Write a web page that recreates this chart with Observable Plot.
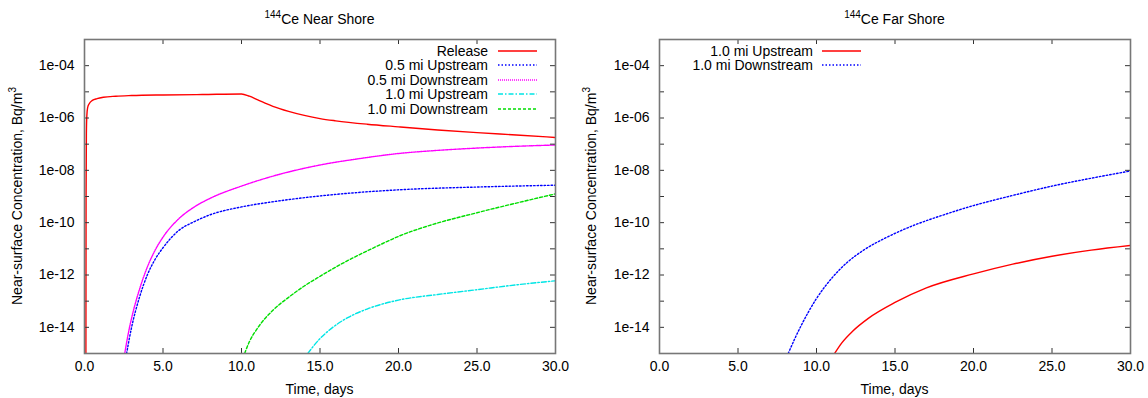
<!DOCTYPE html>
<html><head><meta charset="utf-8">
<script src="https://cdn.jsdelivr.net/npm/d3@7"></script>
<script src="https://cdn.jsdelivr.net/npm/@observablehq/plot@0.6"></script>
<style>
body{margin:0;background:#fff;font-family:"Liberation Sans",Arial,sans-serif;color:#000;}
#wrap{position:relative;width:1148px;height:398px;overflow:hidden;}
.panel{position:absolute;top:0;width:574px;height:398px;}
.panel svg{position:absolute;left:0;top:0;}
.txt{position:absolute;font-size:14px;white-space:nowrap;line-height:16px;}
.title sup{font-size:10px;vertical-align:6px;line-height:0;}
.ylab sup{font-size:10px;vertical-align:6px;line-height:0;}
</style></head><body>
<div id="wrap"></div>
<script>
// ---------- data ----------
const xTickValues = [0, 5, 10, 15, 20, 25, 30];
const xTickLabels = ["0.0", "5.0", "10.0", "15.0", "20.0", "25.0", "30.0"];
const yTickValues = [1e-14, 1e-13, 1e-12, 1e-11, 1e-10, 1e-9, 1e-8, 1e-7, 1e-6, 1e-5, 1e-4];
const yLabelValues = [1e-14, 1e-12, 1e-10, 1e-8, 1e-6, 1e-4];
const yLabelTexts = ["1e-14", "1e-12", "1e-10", "1e-08", "1e-06", "1e-04"];

// Near shore
const releaseDays = [0.09,0.1,0.12,0.15,0.2,0.3,0.5,0.8,1.2,2,3,5,7.5,10,10.5,11,11.5,12,13,14,15,16,18,20,22.5,25,27.5,30];
const releaseConc = [1e-15,1e-9,2.5e-7,1.26e-6,2.5e-6,3.5e-6,4.7e-6,5.5e-6,6.2e-6,6.8e-6,7.2e-6,7.6e-6,7.9e-6,8.3e-6,6.8e-6,5.0e-6,3.7e-6,2.8e-6,1.8e-6,1.26e-6,9.5e-7,7.8e-7,5.8e-7,4.6e-7,3.5e-7,2.75e-7,2.24e-7,1.8e-7];

const up05Days = [2.68,3.0,3.5,4.0,4.5,5.0,6.0,7.0,8.0,10,12,15,20,25,30];
const up05Conc = [1e-15,1e-14,1.4e-13,1e-12,4.0e-12,1.1e-11,5.0e-11,1.1e-10,2.0e-10,4.0e-10,6.3e-10,1.05e-9,1.8e-9,2.3e-9,2.7e-9];

const down05Days = [2.56,2.8,3.1,3.5,4.0,4.5,5.0,6.0,7.0,8.0,10,12,15,17.5,20,22.5,25,27.5,30];
const down05Conc = [1e-15,6.3e-15,4.0e-14,2.8e-13,2.0e-12,8.9e-12,2.8e-11,1.4e-10,4.0e-10,8.5e-10,2.5e-9,6.0e-9,1.6e-8,2.8e-8,4.4e-8,5.8e-8,7.1e-8,8.3e-8,9.3e-8];

const up10Days = [14.22,14.9,15.6,16.8,18,20,22.5,25,27.5,30];
const up10Conc = [1e-15,3.2e-15,7.9e-15,2.4e-14,5.0e-14,1.1e-13,1.8e-13,2.75e-13,4.2e-13,6.0e-13];

const down10Days = [10.2,10.5,11,12,13,14,15,16,17,18,19,20,22,25,27.5,30];
const down10Conc = [1e-15,2.8e-15,8.9e-15,4.5e-14,1.4e-13,3.8e-13,8.9e-13,2.0e-12,4.2e-12,8.3e-12,1.6e-11,3.0e-11,7.9e-11,2.4e-10,5.6e-10,1.26e-9];

// Far shore
const farUp10Days = [11.15,11.6,12.3,13.3,15,17,20,22.5,25,27.5,30];
const farUp10Conc = [1e-15,2.5e-15,7.1e-15,2.2e-14,8.9e-14,3.2e-13,1.1e-12,2.6e-12,5.2e-12,8.9e-12,1.35e-11];

const farDown10Days = [8.2,8.6,9.0,9.5,10,11,12,13,14.5,16,18,20,22.5,25,27.5,30];
const farDown10Conc = [1e-15,3.5e-15,1.1e-14,4.0e-14,1.26e-13,7.9e-13,3.2e-12,8.9e-12,2.8e-11,7.1e-11,1.9e-10,4.5e-10,1.1e-9,2.5e-9,5.0e-9,9.5e-9];

const nearNames = ["Release", "0.5 mi Upstream", "0.5 mi Downstream", "1.0 mi Upstream", "1.0 mi Downstream"];
const farNames = ["1.0 mi Upstream", "1.0 mi Downstream"];

// ---------- styles ----------
const STY = {
  red:     {stroke: "#ff0000", dash: null},
  blue:    {stroke: "#0000ff", dash: "1.5,2"},
  magenta: {stroke: "#ff00ff", dash: "1,1"},
  cyan:    {stroke: "#00e5e5", dash: "5,2,1.5,2"},
  green:   {stroke: "#00dd00", dash: "3,2"}
};

const nearSeries = [
  {name: nearNames[0], t: releaseDays, c: releaseConc, ...STY.red},
  {name: nearNames[1], t: up05Days, c: up05Conc, ...STY.blue},
  {name: nearNames[2], t: down05Days, c: down05Conc, ...STY.magenta},
  {name: nearNames[3], t: up10Days, c: up10Conc, ...STY.cyan},
  {name: nearNames[4], t: down10Days, c: down10Conc, ...STY.green}
];
const farSeries = [
  {name: farNames[0], t: farUp10Days, c: farUp10Conc, ...STY.red},
  {name: farNames[1], t: farDown10Days, c: farDown10Conc, ...STY.blue}
];

const W = 574, H = 398, MT = 39, MB = 45;
const wrap = document.getElementById("wrap");

function makePanel({left, series, marginLeft, marginRight, titleText, legendRight, sampleLeft}) {
  const innerH = H - MT - MB, innerW = W - marginLeft - marginRight;
  const labelMap = new Map(yLabelValues.map((v, i) => [v, yLabelTexts[i]]));
  const xLabMap = new Map(xTickValues.map((v, i) => [v, xTickLabels[i]]));
  const tick = 5;
  const chart = Plot.plot({
    width: W, height: H,
    marginLeft, marginRight, marginTop: MT, marginBottom: MB,
    style: {fontFamily: "Liberation Sans, Arial, sans-serif", fontSize: "14px", background: "transparent", color: "#000"},
    x: {type: "linear", domain: [0, 30]},
    y: {type: "log", domain: [1e-15, 1e-3]},
    marks: [
      ...series.map(s => Plot.line(s.t.map((t, i) => ({t, c: s.c[i]})), {
        x: "t", y: "c", stroke: s.stroke, strokeWidth: 1.4,
        strokeDasharray: s.dash, curve: "monotone-x", clip: true
      })),
      Plot.tickX(xTickValues, {x: d => d, insetTop: innerH - tick, stroke: "#333"}),
      Plot.tickX(xTickValues, {x: d => d, insetBottom: innerH - tick, stroke: "#333"}),
      Plot.tickY(yTickValues, {y: d => d, insetRight: innerW - tick, stroke: "#333"}),
      Plot.tickY(yTickValues, {y: d => d, insetLeft: innerW - tick, stroke: "#333"}),
      Plot.axisX(xTickValues, {tickSize: 0, tickPadding: 8, tickFormat: d => xLabMap.get(d), label: null, fill: "#000"}),
      Plot.axisY(yLabelValues, {tickSize: 0, tickPadding: 10, tickFormat: d => labelMap.get(d), label: null, fill: "#000"}),
      Plot.frame({stroke: "#777", strokeWidth: 1.6})
    ]
  });
  const div = document.createElement("div");
  div.className = "panel";
  div.style.left = left + "px";
  div.appendChild(chart);

  const cx = marginLeft + innerW / 2;
  const t = document.createElement("div");
  t.className = "txt title";
  t.innerHTML = `<sup>144</sup>${titleText}`;
  t.style.left = cx + "px"; t.style.top = "19px"; t.style.transform = "translate(-50%,-50%)";
  div.appendChild(t);
  const xl = document.createElement("div");
  xl.className = "txt";
  xl.textContent = "Time, days";
  xl.style.left = cx + "px"; xl.style.top = "389px"; xl.style.transform = "translate(-50%,-50%)";
  div.appendChild(xl);
  const yl = document.createElement("div");
  yl.className = "txt ylab";
  yl.innerHTML = "Near-surface Concentration, Bq/m<sup>3</sup>";
  yl.style.left = "17px"; yl.style.top = (MT + innerH / 2) + "px";
  yl.style.transform = "translate(-50%,-50%) rotate(-90deg)";
  div.appendChild(yl);
  series.forEach((s, i) => {
    const y = 51 + i * 14.4;
    const lt = document.createElement("div");
    lt.className = "txt";
    lt.textContent = s.name;
    lt.style.right = (W - legendRight) + "px";
    lt.style.top = (y - 8) + "px";
    div.appendChild(lt);
    const svg = d3.create("svg").attr("width", 40).attr("height", 6)
      .style("position", "absolute").style("left", sampleLeft + "px").style("top", (y - 3) + "px");
    svg.append("line").attr("x1", 0).attr("x2", 39).attr("y1", 3).attr("y2", 3)
      .attr("stroke", s.stroke).attr("stroke-width", 1.4)
      .attr("stroke-dasharray", s.dash);
    div.appendChild(svg.node());
  });
  wrap.appendChild(div);
}

makePanel({left: 0, series: nearSeries, marginLeft: 84, marginRight: 19, titleText: "Ce Near Shore", legendRight: 488, sampleLeft: 498});
makePanel({left: 574, series: farSeries, marginLeft: 85, marginRight: 18, titleText: "Ce Far Shore", legendRight: 239, sampleLeft: 248});
</script>
</body></html>
